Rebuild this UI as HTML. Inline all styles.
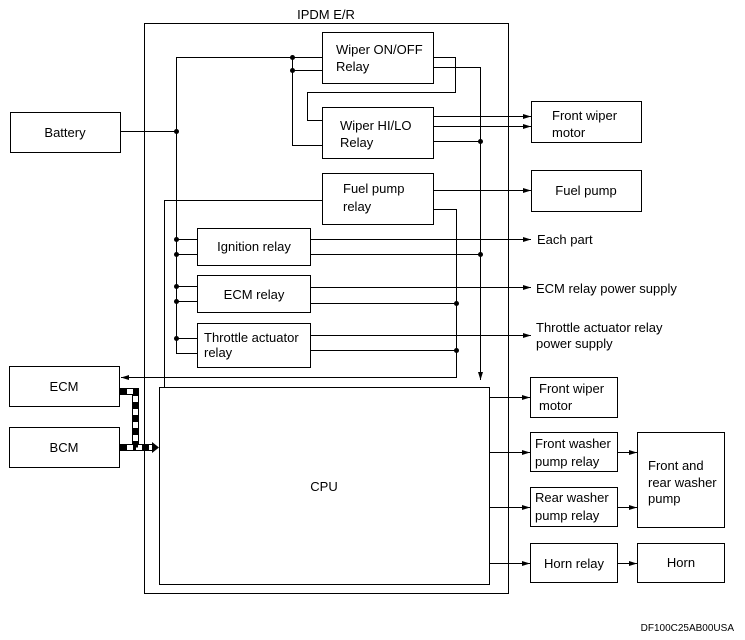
<!DOCTYPE html>
<html><head><style>body{margin:0;background:#fff}svg{display:block}text{font-family:"Liberation Sans",Arial,sans-serif;font-size:13px;fill:#000}</style></head>
<body>
<svg width="745" height="640" viewBox="0 0 745 640" xmlns="http://www.w3.org/2000/svg">
<defs><marker id="a" markerWidth="8" markerHeight="6" refX="8" refY="3" orient="auto" markerUnits="userSpaceOnUse"><path d="M0,0.5 L8,3 L0,5.5z" fill="#000"/></marker></defs>
<g fill="none" stroke="#000" stroke-width="1">
<rect x="144.5" y="23.5" width="364" height="570"/>
<rect x="322.5" y="32.5" width="111" height="51"/>
<rect x="322.5" y="107.5" width="111" height="51"/>
<rect x="322.5" y="173.5" width="111" height="51"/>
<rect x="197.5" y="228.5" width="113" height="37"/>
<rect x="197.5" y="275.5" width="113" height="37"/>
<rect x="197.5" y="323.5" width="113" height="44"/>
<rect x="159.5" y="387.5" width="330" height="197"/>
<rect x="10.5" y="112.5" width="110" height="40"/>
<rect x="9.5" y="366.5" width="110" height="40"/>
<rect x="9.5" y="427.5" width="110" height="40"/>
<rect x="531.5" y="101.5" width="110" height="41"/>
<rect x="531.5" y="170.5" width="110" height="41"/>
<rect x="530.5" y="377.5" width="87" height="40"/>
<rect x="530.5" y="432.5" width="87" height="39"/>
<rect x="530.5" y="487.5" width="87" height="39"/>
<rect x="637.5" y="432.5" width="87" height="95"/>
<rect x="530.5" y="543.5" width="87" height="39"/>
<rect x="637.5" y="543.5" width="87" height="39"/>
<path d="M120,131.5H176.5M176.5,57V353.5H197M176,57.5H322M292.5,57V145.5H322M292,70.5H322"/>
<path d="M433,57.5H455.5V92.5H307.5V120.5H322"/>
<path d="M433,67.5H480.5V380" marker-end="url(#a)"/>
<path d="M433,116.5H531" marker-end="url(#a)"/>
<path d="M433,126.5H531" marker-end="url(#a)"/>
<path d="M433,141.5H480"/>
<path d="M433,190.5H531" marker-end="url(#a)"/>
<path d="M433,209.5H456.5V377.5H121" marker-end="url(#a)"/>
<path d="M322,200.5H164.5V387"/>
<path d="M176,239.5H197M176,254.5H197M176,286.5H197M176,301.5H197M176,338.5H197"/>
<path d="M310,239.5H531" marker-end="url(#a)"/>
<path d="M310,254.5H480"/>
<path d="M310,287.5H531" marker-end="url(#a)"/>
<path d="M310,303.5H456"/>
<path d="M310,335.5H531" marker-end="url(#a)"/>
<path d="M310,350.5H456"/>
<path d="M489,397.5H530" marker-end="url(#a)"/>
<path d="M489,452.5H530" marker-end="url(#a)"/>
<path d="M489,507.5H530" marker-end="url(#a)"/>
<path d="M489,563.5H530" marker-end="url(#a)"/>
<path d="M617,452.5H637" marker-end="url(#a)"/>
<path d="M617,507.5H637" marker-end="url(#a)"/>
<path d="M617,563.5H637" marker-end="url(#a)"/>
</g>
<g fill="#000">
<circle cx="176.5" cy="131.5" r="2.5"/><circle cx="292.5" cy="57.5" r="2.5"/><circle cx="292.5" cy="70.5" r="2.5"/>
<circle cx="480.5" cy="141.5" r="2.5"/><circle cx="480.5" cy="254.5" r="2.5"/>
<circle cx="176.5" cy="239.5" r="2.5"/><circle cx="176.5" cy="254.5" r="2.5"/><circle cx="176.5" cy="286.5" r="2.5"/><circle cx="176.5" cy="301.5" r="2.5"/><circle cx="176.5" cy="338.5" r="2.5"/>
<circle cx="456.5" cy="303.5" r="2.5"/><circle cx="456.5" cy="350.5" r="2.5"/>
</g>
<g fill="none">
<path d="M120,391.5H135.5V447.5M120,447.5H153" stroke="#000" stroke-width="7"/>
<path d="M120,391.5H135.5V447.5M120,447.5H153" stroke="#fff" stroke-width="5"/>
<path d="M120,391.5H135.5V447.5H153M120,447.5H135" stroke="#000" stroke-width="5" stroke-dasharray="7,6"/>
</g>
<path d="M152,442 L159,447.5 L152,453z" fill="#000"/>
<text x="326" y="19" text-anchor="middle">IPDM E/R</text>
<text x="336" y="54">Wiper ON/OFF</text><text x="336" y="71">Relay</text>
<text x="340" y="130">Wiper HI/LO</text><text x="340" y="147">Relay</text>
<text x="343" y="193">Fuel pump</text><text x="343" y="211">relay</text>
<text x="254" y="251" text-anchor="middle">Ignition relay</text>
<text x="254" y="299" text-anchor="middle">ECM relay</text>
<text x="204" y="342">Throttle actuator</text><text x="204" y="357">relay</text>
<text x="324" y="491" text-anchor="middle">CPU</text>
<text x="65" y="137" text-anchor="middle">Battery</text>
<text x="64" y="391" text-anchor="middle">ECM</text>
<text x="64" y="452" text-anchor="middle">BCM</text>
<text x="552" y="120">Front wiper</text><text x="552" y="137">motor</text>
<text x="586" y="195" text-anchor="middle">Fuel pump</text>
<text x="537" y="244">Each part</text>
<text x="536" y="293">ECM relay power supply</text>
<text x="536" y="332">Throttle actuator relay</text><text x="536" y="348">power supply</text>
<text x="539" y="393">Front wiper</text><text x="539" y="410">motor</text>
<text x="535" y="448">Front washer</text><text x="535" y="466">pump relay</text>
<text x="535" y="502">Rear washer</text><text x="535" y="520">pump relay</text>
<text x="648" y="470">Front and</text><text x="648" y="487">rear washer</text><text x="648" y="503">pump</text>
<text x="574" y="568" text-anchor="middle">Horn relay</text>
<text x="681" y="567" text-anchor="middle">Horn</text>
<text x="734" y="631" text-anchor="end" style="font-size:10px">DF100C25AB00USA</text>
</svg>
</body></html>
